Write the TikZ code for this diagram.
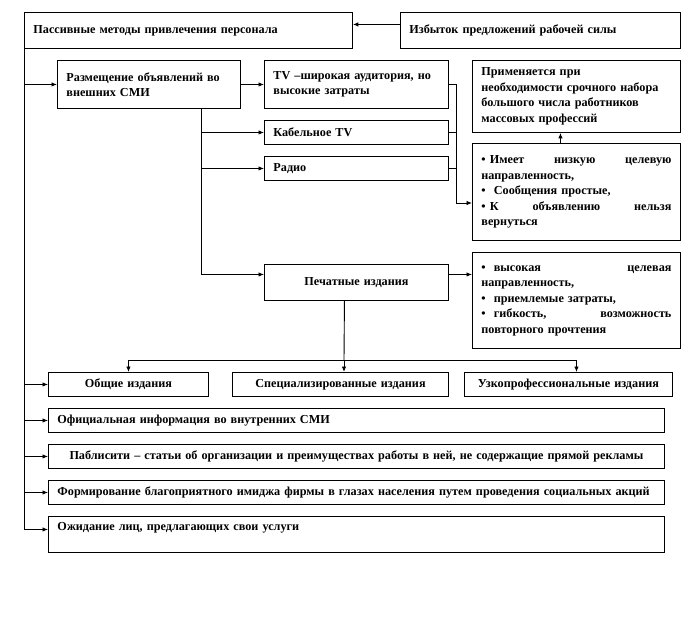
\documentclass[tikz,border=0pt]{standalone}
\usepackage{fontspec}
\setmainfont{Liberation Serif}
\usetikzlibrary{arrows.meta,positioning}

\begin{document}
\begin{tikzpicture}[
    x=1pt, y=-1pt,
    font=\fontsize{12.2}{15.5}\selectfont\bfseries,
    box/.style={
        draw,
        line width=0.9pt,
        anchor=north west,
        inner xsep=9pt,
        inner ysep=0pt,
        align=left
    },
    centred/.style={
        align=center
    },
    link/.style={
        line width=0.9pt
    },
    arrow/.style={
        -{Latex[length=5.5pt,width=4.5pt]},
        line width=0.9pt
    }
]
\useasboundingbox (0,0) rectangle (683,624);
% Top row
\node[box, minimum width=328, minimum height=36, text width=310] (passive) at (24,12)
    {Пассивные  методы привлечения  персонала};
\node[box, minimum width=280, minimum height=36, text width=262] (surplus) at (400,12)
    {Избыток предложений рабочей силы};
% External media
\node[box, minimum width=183, minimum height=48, text width=165] (media) at (57,60)
    {Размещение объявлений во\\ внешних  СМИ};
\node[box, minimum width=184, minimum height=48, text width=166] (tv) at (264,60)
    {TV –широкая аудитория, но\\ высокие затраты};
\node[box, minimum width=208, minimum height=72, text width=190] (usage) at (472,60)
    {Применяется при\\ необходимости срочного набора\\ большого числа работников\\ массовых профессий};
\node[box, minimum width=184, minimum height=24, text width=166] (cable) at (264,120)
    {Кабельное TV};
\node[box, minimum width=184, minimum height=24, text width=166] (radio) at (264,156)
    {Радио};
\node[box, minimum width=208, minimum height=97, text width=190] (traits) at (472,143)
    {• Имеет\hfill низкую\hfill целевую\\
     направленность,\\
     •\ \ Сообщения простые,\\
     • К\hfill объявлению\hfill нельзя\\
     вернуться};
% Print media
\node[box, centred, minimum width=184, minimum height=36, text width=166] (print) at (264,264)
    {Печатные издания};
\node[box, minimum width=208, minimum height=96, text width=190] (pros) at (472,252)
    {•\ \ высокая\hfill целевая\\
     направленность,\\
     •\ \ приемлемые затраты,\\
     •\ \ гибкость,\hfill возможность\\
     повторного прочтения};
\node[box, centred, minimum width=160, minimum height=24, text width=142] (general) at (48,372)
    {Общие издания};
\node[box, centred, minimum width=216, minimum height=24, text width=198] (special) at (232,372)
    {Специализированные издания};
\node[box, centred, minimum width=208, minimum height=24, text width=190] (narrow) at (464,372)
    {Узкопрофессиональные издания};
% Other passive methods
\node[box, minimum width=616, minimum height=24, text width=598] (internal) at (48,408)
    {Официальная информация во внутренних  СМИ};
\node[box, centred, minimum width=616, minimum height=24, text width=598] (publicity) at (48,444)
    {Паблисити  – статьи  об организации и преимуществах работы в ней, не содержащие прямой рекламы};
\node[box, minimum width=616, minimum height=24, text width=598] (image) at (48,480)
    {Формирование благоприятного имиджа фирмы в глазах  населения путем проведения социальных  акций};
\node[box, minimum width=616, minimum height=36, text width=598] (waiting) at (48,516)
    {Ожидание лиц, предлагающих  свои услуги\\ \mbox{}};

% Connectors
\draw[arrow] ([yshift=6pt]surplus.west) -- ([yshift=6pt]surplus.west -| passive.east);
\foreach \target in {media, general, internal, publicity, image}
    \draw[arrow] (passive.south west) |- (\target.west);
\draw[arrow] (passive.south west) |- ([yshift=5pt]waiting.west);
\draw[arrow] (media.east) -- (tv.west);
% Broadcast branch
\coordinate (mediafoot) at ([xshift=52pt]media.south);
\draw[arrow] (mediafoot) |- (cable.west);
\draw[arrow] (mediafoot) |- (radio.west);
\draw[arrow] (mediafoot) |- ([yshift=8pt]print.west);
\coordinate (bend) at (456,203);
\draw[link] (tv.east) -| (bend);
\draw[link] (cable.east) -- (cable.east -| bend);
\draw[link] (radio.east) -- (radio.east -| bend);
\draw[arrow] (bend) -- (bend -| traits.west);
\draw[arrow] ([xshift=-16pt]traits.north) -- ([xshift=-16pt]usage.south);
% Print branch
\draw[arrow] ([yshift=8pt]print.east) -- ([yshift=8pt]print.east -| pros.west);
\coordinate (split) at (344,360);
\draw[link] ([xshift=-12pt]print.south) -- (split);
\draw[arrow] (split) -| (general.north);
\draw[arrow] (split) -- (split |- special.north);
\draw[arrow] (split) -| ([xshift=8pt]narrow.north);
\end{tikzpicture}
\end{document}
